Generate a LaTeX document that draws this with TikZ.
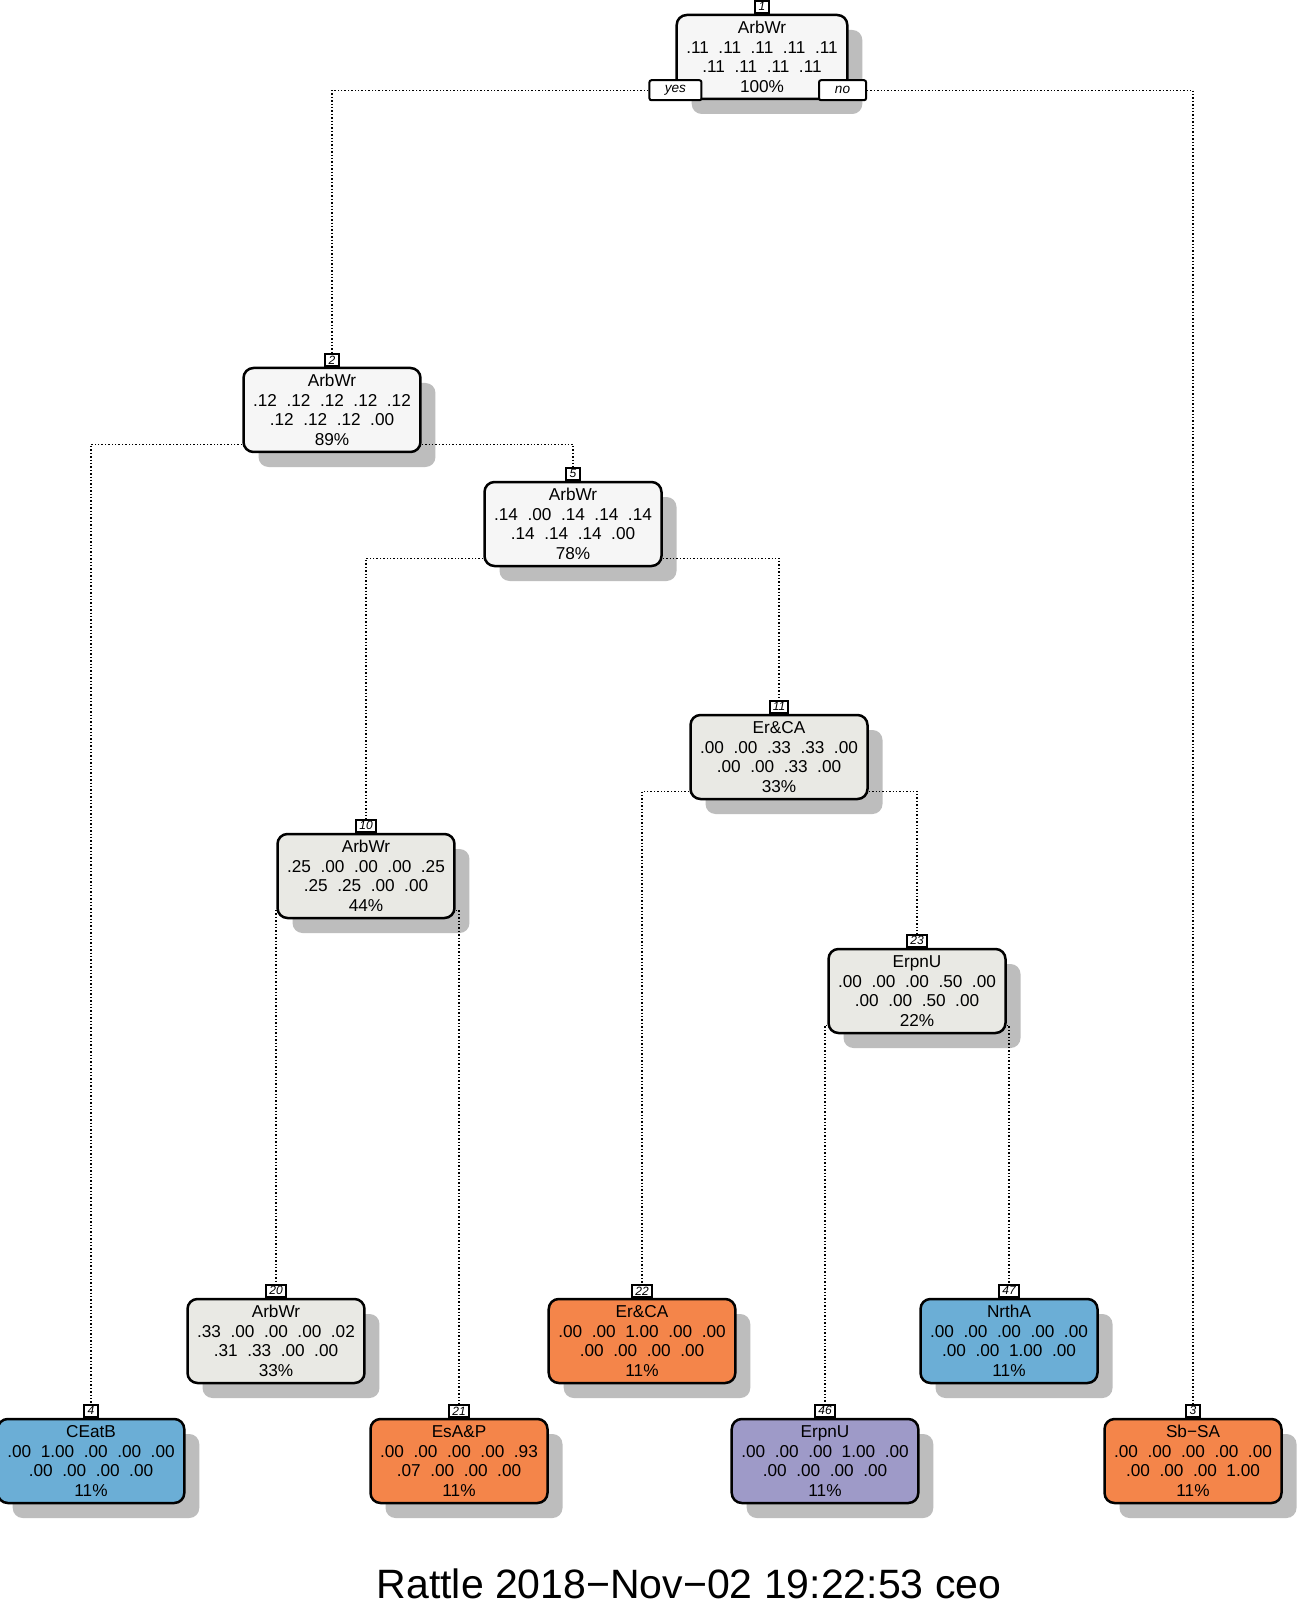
\documentclass[tikz,border=0pt]{standalone}
\usepackage{fontspec}
\setmainfont{Liberation Sans}
\usetikzlibrary{shadows}
\definecolor{splitwhite}{HTML}{F6F6F6}
\definecolor{splitgray}{HTML}{E9E9E4}
\definecolor{leafblue}{HTML}{6BAED6}
\definecolor{leaforange}{HTML}{F4854A}
\definecolor{leafpurple}{HTML}{9E9AC8}
\begin{document}
\begin{tikzpicture}[x=0.5pt,y=-0.5pt,
	tree/.style={draw, line width=1.25pt, rounded corners=5pt, minimum width=85pt, minimum height=42pt,
		inner xsep=4.8pt, inner ysep=2pt, align=center, font=\fontsize{8.6}{9.75}\selectfont,
		drop shadow={shadow xshift=7.5pt, shadow yshift=-7.5pt, fill=black!26, opacity=1}},
	numbox/.style={draw, fill=white, line width=0.9pt, inner xsep=1.5pt, inner ysep=0pt, minimum height=6pt,
		minimum width=7pt, anchor=south, font=\fontsize{6}{6}\selectfont\itshape},
	yesno/.style={draw, fill=white, line width=1pt, rounded corners=1pt, minimum height=10pt, inner sep=0pt,
		font=\fontsize{6.8}{6.8}\selectfont\itshape},
	branch/.style={densely dotted, line width=0.7pt}]
	\useasboundingbox[fill=white] (0,0) rectangle (1304,1604);
	\node[tree, fill=splitwhite] (n1) at (762,57) {ArbWr\\.11~~.11~~.11~~.11~~.11\\.11~~.11~~.11~~.11\\100\%};
	\node[tree, fill=splitwhite] (n2) at (332,410) {ArbWr\\.12~~.12~~.12~~.12~~.12\\.12~~.12~~.12~~.00\\89\%};
	\node[tree, fill=splitwhite] (n5) at (573,524) {ArbWr\\.14~~.00~~.14~~.14~~.14\\.14~~.14~~.14~~.00\\78\%};
	\node[tree, fill=splitgray] (n11) at (779,757) {Er\&CA\\.00~~.00~~.33~~.33~~.00\\.00~~.00~~.33~~.00\\33\%};
	\node[tree, fill=splitgray] (n10) at (366,876) {ArbWr\\.25~~.00~~.00~~.00~~.25\\.25~~.25~~.00~~.00\\44\%};
	\node[tree, fill=splitgray] (n23) at (917,991) {ErpnU\\.00~~.00~~.00~~.50~~.00\\.00~~.00~~.50~~.00\\22\%};
	\node[tree, fill=splitgray] (n20) at (276,1341) {ArbWr\\.33~~.00~~.00~~.00~~.02\\.31~~.33~~.00~~.00\\33\%};
	\node[tree, fill=leaforange] (n22) at (642,1341) {Er\&CA\\.00~~.00~~1.00~~.00~~.00\\.00~~.00~~.00~~.00\\11\%};
	\node[tree, fill=leafblue] (n47) at (1009,1341) {NrthA\\.00~~.00~~.00~~.00~~.00\\.00~~.00~~1.00~~.00\\11\%};
	\node[tree, fill=leafblue] (n4) at (91,1461) {CEatB\\.00~~1.00~~.00~~.00~~.00\\.00~~.00~~.00~~.00\\11\%};
	\node[tree, fill=leaforange] (n21) at (459,1461) {EsA\&P\\.00~~.00~~.00~~.00~~.93\\.07~~.00~~.00~~.00\\11\%};
	\node[tree, fill=leafpurple] (n46) at (825,1461) {ErpnU\\.00~~.00~~.00~~1.00~~.00\\.00~~.00~~.00~~.00\\11\%};
	\node[tree, fill=leaforange] (n3) at (1193,1461) {Sb−SA\\.00~~.00~~.00~~.00~~.00\\.00~~.00~~.00~~1.00\\11\%};
	\foreach \k in {1,2,3,4,5,10,11,20,21,22,23,46,47}
		\node[numbox] (l\k) at (n\k.north) {\k};
	\node[yesno, minimum width=26pt] (yes) at ([yshift=5pt]n1.south west) {yes};
	\node[yesno, minimum width=23.5pt] (no) at ([xshift=-3pt,yshift=5pt]n1.south east) {no};
	\draw[branch] (yes.west) -| (l2.north);
	\draw[branch] (no.east) -| (l3.north);
	\draw[branch] ([yshift=4.5pt]n2.south west) -| (l4.north);
	\draw[branch] ([yshift=4.5pt]n2.south east) -| (l5.north);
	\draw[branch] ([yshift=4.5pt]n5.south west) -| (l10.north);
	\draw[branch] ([yshift=4.5pt]n5.south east) -| (l11.north);
	\draw[branch] ([yshift=4.5pt]n10.south west) -| (l20.north);
	\draw[branch] ([yshift=4.5pt]n10.south east) -| (l21.north);
	\draw[branch] ([yshift=4.5pt]n11.south west) -| (l22.north);
	\draw[branch] ([yshift=4.5pt]n11.south east) -| (l23.north);
	\draw[branch] ([yshift=4.5pt]n23.south west) -| (l46.north);
	\draw[branch] ([yshift=4.5pt]n23.south east) -| (l47.north);
	\node[anchor=base, font=\fontsize{20.5}{24}\selectfont] (title) at (689,1598) {Rattle 2018−Nov−02 19:22:53 ceo};
\end{tikzpicture}
\end{document}
